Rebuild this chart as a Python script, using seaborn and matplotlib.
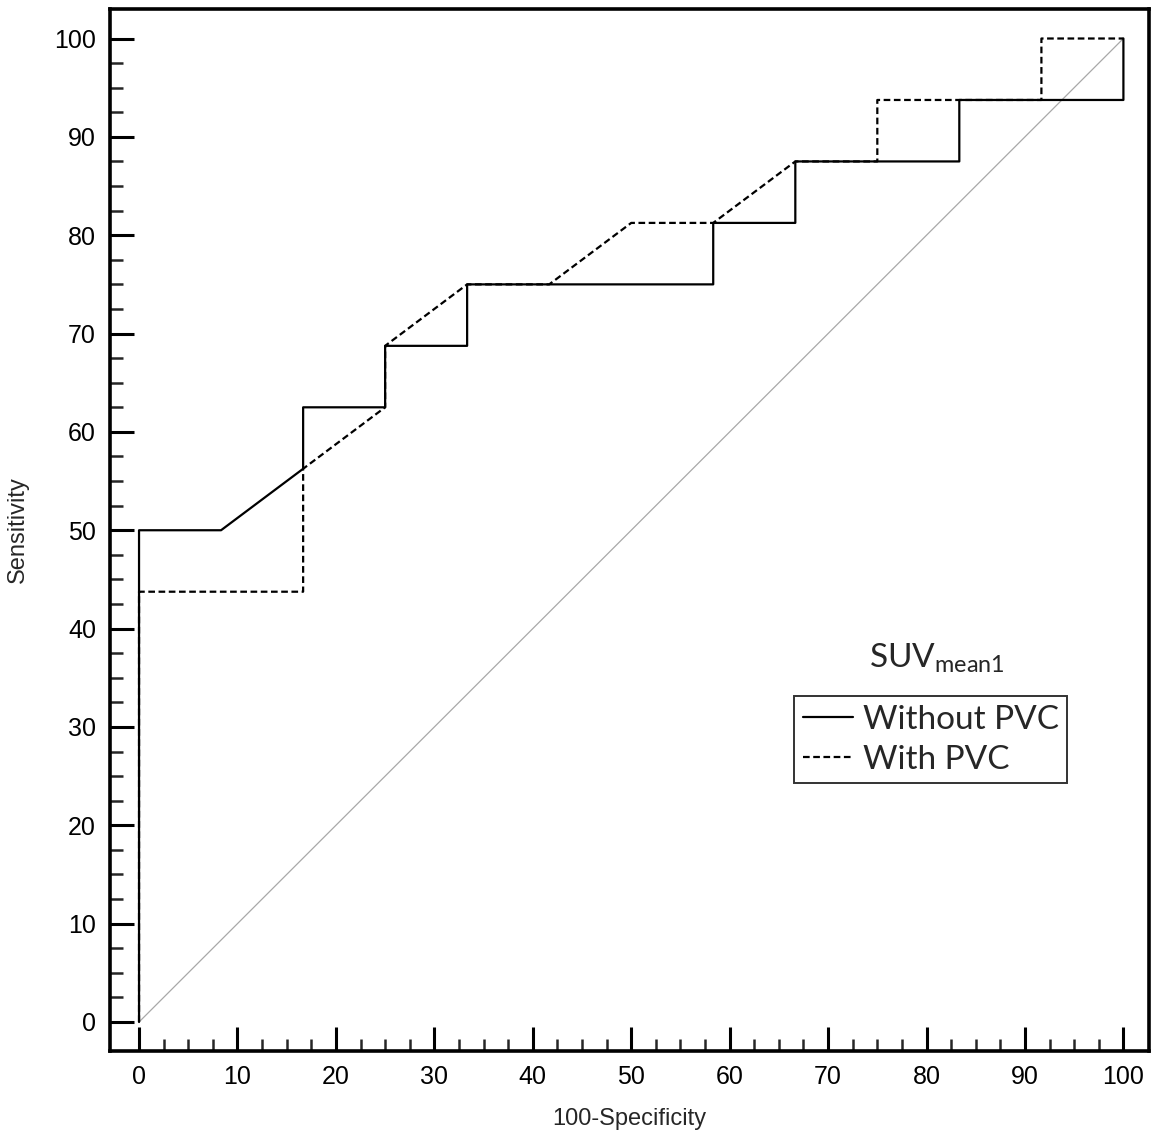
import matplotlib
matplotlib.use('Agg')
import matplotlib.pyplot as plt
import seaborn as sns
import numpy as np
from matplotlib.lines import Line2D
from matplotlib.ticker import MultipleLocator

# ROC points (100-Specificity, Sensitivity)
fpr_without = [0, 0, 8.33, 16.67, 16.67, 25, 25, 33.33, 33.33, 58.33, 58.33, 66.67, 66.67, 83.33, 83.33, 100, 100]
tpr_without = [0, 50, 50, 56.25, 62.5, 62.5, 68.75, 68.75, 75, 75, 81.25, 81.25, 87.5, 87.5, 93.75, 93.75, 100]

fpr_with = [0, 0, 16.67, 16.67, 25, 25, 33.33, 41.67, 50, 58.33, 66.67, 75, 75, 91.67, 91.67, 100]
tpr_with = [0, 43.75, 43.75, 56.25, 62.5, 68.75, 75, 75, 81.25, 81.25, 87.5, 87.5, 93.75, 93.75, 100, 100]

ref_line = [0, 100]
series_labels = ['Without PVC', 'With PVC']

sns.set_style('white')
plt.rcParams['font.family'] = ['Liberation Sans', 'DejaVu Sans']

fig = plt.figure(figsize=(11.54, 11.38), dpi=100)
ax = fig.add_axes([110 / 1154, 1 - 1051 / 1138, (1149 - 110) / 1154, (1051 - 9) / 1138])

# chance diagonal
ax.plot(ref_line, ref_line, color='#a8a8a8', lw=0.9, zorder=1)

sns.lineplot(x=fpr_without, y=tpr_without, sort=False, estimator=None, ax=ax,
             color='black', lw=1.6, zorder=3)
sns.lineplot(x=fpr_with, y=tpr_with, sort=False, estimator=None, ax=ax,
             color='black', lw=1.6, dashes=False, zorder=2)
ax.lines[-1].set_dashes([3, 1.6])

ax.set_xlim(-2.95, 102.6)
ax.set_ylim(-2.95, 103)

ax.xaxis.set_major_locator(MultipleLocator(10))
ax.yaxis.set_major_locator(MultipleLocator(10))
minor = [t for t in np.arange(0, 100.1, 2.5) if t % 10 != 0]
ax.set_xticks(minor, minor=True)
ax.set_yticks(minor, minor=True)
ax.tick_params(which='major', direction='in', length=17, width=2.2, labelsize=18, pad=10,
               bottom=True, left=True, top=False, right=False, colors='black')
ax.tick_params(which='minor', direction='in', length=9, width=1.8,
               bottom=True, left=True, top=False, right=False)

for s in ax.spines.values():
    s.set_linewidth(2.6)
    s.set_color('black')

ax.set_xlabel('100-Specificity', fontsize=17, labelpad=14)
ax.set_ylabel('Sensitivity', fontsize=17, labelpad=18)

handles = [Line2D([], [], color='black', lw=1.6),
           Line2D([], [], color='black', lw=1.6, dashes=[3, 1.6])]
leg = ax.legend(handles, series_labels, loc='upper left', bbox_to_anchor=(0.6585, 0.3405),
                frameon=True, fancybox=False, edgecolor='black', handlelength=1.5,
                handletextpad=0.3, borderpad=0.25, labelspacing=0.3, borderaxespad=0,
                handleheight=0.7, prop={'family': 'Lato', 'size': 24})
leg.get_frame().set_linewidth(1.4)
ax.text(81.0, 35.3, r'SUV$_{\mathregular{mean1}}$', fontsize=24, family='Lato',
        ha='center', va='bottom')

plt.savefig('out.png', dpi=100)
